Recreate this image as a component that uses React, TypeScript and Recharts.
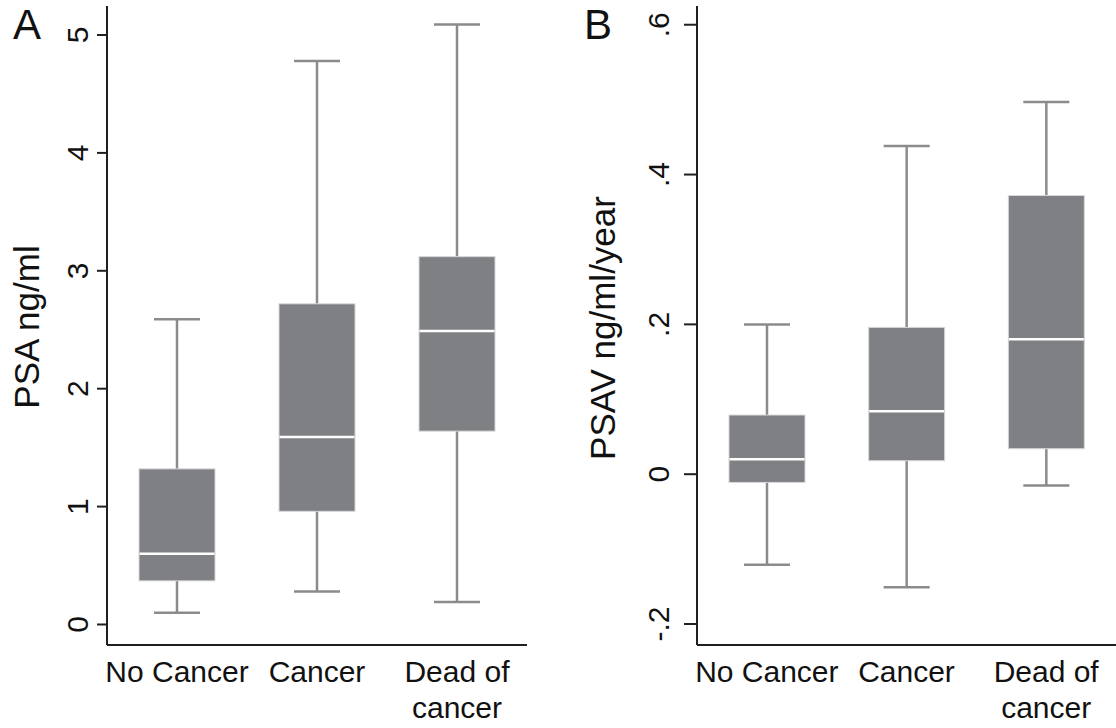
import React from "react";
import { Bar, ComposedChart, XAxis, YAxis } from "recharts";

// categories shared by both panels
const categories = ["No Cancer", "Cancer", "Dead of cancer"];
const categoryLines = [["No Cancer"], ["Cancer"], ["Dead of", "cancer"]];

// panel A: PSA ng/ml
const psaMin = [0.1, 0.28, 0.19];
const psaQ1 = [0.37, 0.96, 1.64];
const psaMedian = [0.6, 1.59, 2.49];
const psaQ3 = [1.32, 2.72, 3.12];
const psaMax = [2.59, 4.78, 5.09];
const psaTicks = [0, 1, 2, 3, 4, 5];

// panel B: PSAV ng/ml/year
const psavMin = [-0.121, -0.151, -0.015];
const psavQ1 = [-0.011, 0.018, 0.034];
const psavMedian = [0.02, 0.084, 0.18];
const psavQ3 = [0.079, 0.196, 0.372];
const psavMax = [0.2, 0.438, 0.497];
const psavTicks = [-0.2, 0, 0.2, 0.4, 0.6];

const FONT = "'Liberation Sans', Arial, Helvetica, sans-serif";
const BOX_FILL = "#7f8084";
const WHISKER = "#8b8b8d";
const AXIS = "#231f20";

const buildRows = (mins: number[], q1s: number[], meds: number[], q3s: number[], maxs: number[]) =>
  categories.map((name, i) => ({
    name,
    idx: i,
    min: mins[i],
    q1: q1s[i],
    median: meds[i],
    q3: q3s[i],
    max: maxs[i],
  }));

const psaData = buildRows(psaMin, psaQ1, psaMedian, psaQ3, psaMax);
const psavData = buildRows(psavMin, psavQ1, psavMedian, psavQ3, psavMax);

const fmtPsav = (v: number) => {
  if (v === 0) return "0";
  const s = v.toFixed(1);
  return s.replace("0.", ".");
};

const WhiskerShape = (props: any) => {
  const { x, y, width, height } = props;
  const top = Math.min(y, y + height);
  const bottom = Math.max(y, y + height);
  const cx = x + width / 2;
  const half = 23;
  return (
    <g stroke={WHISKER} strokeWidth={2.5} fill="none">
      <line x1={cx} x2={cx} y1={top} y2={bottom} />
      <line x1={cx - half} x2={cx + half} y1={top} y2={top} />
      <line x1={cx - half} x2={cx + half} y1={bottom} y2={bottom} />
    </g>
  );
};

const BoxShape = (props: any) => {
  const { x, y, width, height, payload } = props;
  const top = Math.min(y, y + height);
  const h = Math.abs(height);
  // median position from the box's own pixel span
  const medY = top + (h * (payload.q3 - payload.median)) / (payload.q3 - payload.q1);
  return (
    <g>
      <rect x={x} y={top} width={width} height={h} fill={BOX_FILL} stroke="#d8d8da" strokeWidth={1} />
      <line x1={x + 0.5} x2={x + width - 0.5} y1={medY} y2={medY} stroke="#ffffff" strokeWidth={2.5} />
    </g>
  );
};

const CategoryTick = (props: any) => {
  const { x, y, payload } = props;
  const lines = categoryLines[payload.index] || [payload.value];
  return (
    <g>
      {lines.map((line, i) => (
        <text
          key={i}
          x={x}
          y={y + 37 + i * 36}
          textAnchor="middle"
          fontFamily={FONT}
          fontSize={30}
          fill="#111"
        >
          {line}
        </text>
      ))}
    </g>
  );
};

const makeValueTick = (formatter: (v: number) => string) => (props: any) => {
  const { x, y, payload } = props;
  return (
    <text
      x={x}
      y={y}
      transform={`rotate(-90, ${x}, ${y})`}
      textAnchor="middle"
      fontFamily={FONT}
      fontSize={30}
      fill="#111"
    >
      {formatter(payload.value)}
    </text>
  );
};

interface PanelProps {
  data: any[];
  width: number;
  yWidth: number;
  right: number;
  domain: [number, number];
  ticks: number[];
  tickSize: number;
  tickMargin: number;
  formatter: (v: number) => string;
}

const BoxPanel: React.FC<PanelProps> = ({ data, width, yWidth, right, domain, ticks, tickSize, tickMargin, formatter }) => (
  <ComposedChart
    width={width}
    height={728}
    data={data}
    margin={{ top: 6, right, left: 0, bottom: 0 }}
    barGap={-76}
    barCategoryGap={0}
  >
    <XAxis
      dataKey="name"
      height={83}
      tickLine={false}
      tickSize={0}
      tickMargin={0}
      interval={0}
      axisLine={{ stroke: AXIS, strokeWidth: 2 }}
      tick={<CategoryTick />}
    />
    <YAxis
      type="number"
      width={yWidth}
      domain={domain}
      ticks={ticks}
      interval={0}
      allowDataOverflow
      tickSize={tickSize}
      tickMargin={tickMargin}
      axisLine={{ stroke: AXIS, strokeWidth: 2 }}
      tickLine={{ stroke: AXIS, strokeWidth: 2 }}
      tick={makeValueTick(formatter)}
    />
    <Bar dataKey={(d: any) => [d.min, d.max]} barSize={76} shape={<WhiskerShape />} isAnimationActive={false} />
    <Bar dataKey={(d: any) => [d.q1, d.q3]} barSize={76} shape={<BoxShape />} isAnimationActive={false} />
  </ComposedChart>
);

export default function App() {
  return (
    <div style={{ position: "fixed", left: 0, top: 0, width: 1116, height: 728, background: "#fff", overflow: "hidden" }}>
      <div style={{ position: "absolute", left: 0, top: 0 }}>
        <BoxPanel
          data={psaData}
          width={540}
          yWidth={107}
          right={13}
          domain={[-0.174, 5.246]}
          ticks={psaTicks}
          tickSize={10}
          tickMargin={9}
          formatter={(v) => String(v)}
        />
      </div>
      <div style={{ position: "absolute", left: 560, top: 0 }}>
        <BoxPanel
          data={psavData}
          width={556}
          yWidth={137}
          right={0}
          domain={[-0.228, 0.625]}
          ticks={psavTicks}
          tickSize={13}
          tickMargin={15}
          formatter={fmtPsav}
        />
      </div>
      <svg width={1116} height={728} style={{ position: "absolute", left: 0, top: 0, pointerEvents: "none" }}>
        <text x={13} y={39} fontFamily={FONT} fontSize={42} fill="#111">A</text>
        <text x={584} y={39} fontFamily={FONT} fontSize={42} fill="#111">B</text>
        <text x={39} y={327} transform="rotate(-90, 39, 327)" textAnchor="middle" fontFamily={FONT} fontSize={35} fill="#111">
          PSA ng/ml
        </text>
        <text x={615} y={328} transform="rotate(-90, 615, 328)" textAnchor="middle" fontFamily={FONT} fontSize={35} fill="#111">
          PSAV ng/ml/year
        </text>
      </svg>
    </div>
  );
}
